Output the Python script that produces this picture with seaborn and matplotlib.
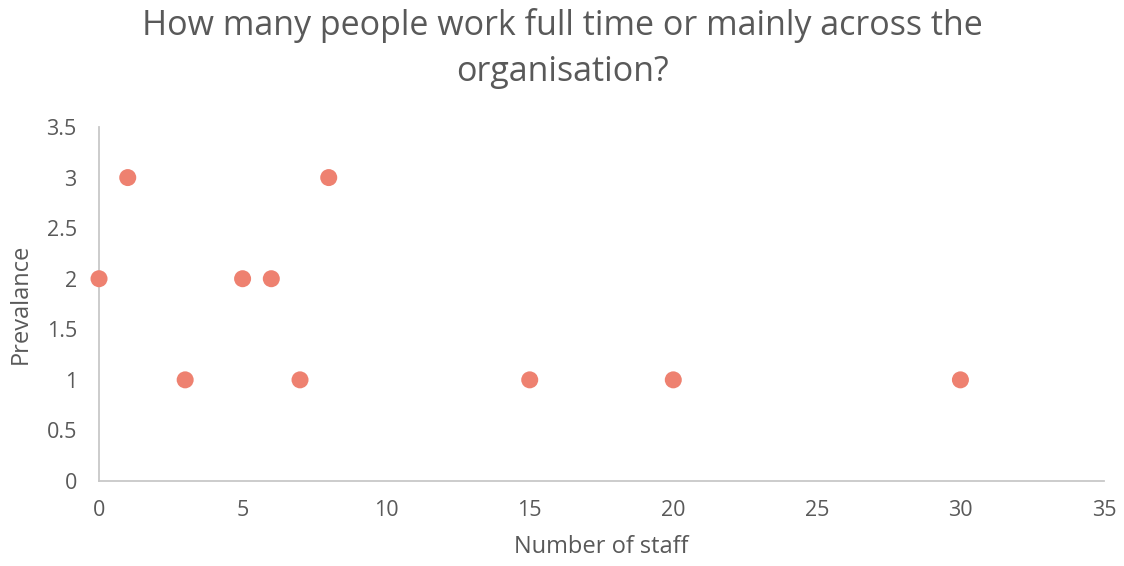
import matplotlib
matplotlib.use("Agg")
import matplotlib.pyplot as plt
import seaborn as sns
import pandas as pd

staff = [0, 1, 3, 5, 6, 7, 8, 15, 20, 30]
prevalence = [2, 3, 1, 2, 2, 1, 3, 1, 1, 1]
x_ticks = [0, 5, 10, 15, 20, 25, 30, 35]
y_ticks = [0, 0.5, 1, 1.5, 2, 2.5, 3, 3.5]
title = "How many people work full time or mainly across the\norganisation?"

sns.set_theme(style="white")
plt.rcParams['font.family'] = ['Open Sans', 'DejaVu Sans']

df = pd.DataFrame({"staff": staff, "prev": prevalence})

fig = plt.figure(figsize=(11.24, 5.66), dpi=100)
ax = fig.add_axes([0.0881, 0.1502, 0.8941, 0.6254])
sns.scatterplot(data=df, x="staff", y="prev", ax=ax, s=150, color="#EE8170",
                edgecolor="none", clip_on=False, zorder=3)

ax.set_xlim(0, 35)
ax.set_ylim(0, 3.5)
ax.set_xticks(x_ticks)
ax.set_xticklabels([str(t) for t in x_ticks])
ax.set_yticks(y_ticks)
ax.set_yticklabels([f"{t:g}" for t in y_ticks])
ax.tick_params(axis='both', labelsize=15.5, colors="#595959", length=0)
ax.tick_params(axis='y', pad=16)
ax.tick_params(axis='x', pad=14)
for s in ["top", "right"]:
    ax.spines[s].set_visible(False)
for s in ["left", "bottom"]:
    ax.spines[s].set_color("#C8C8C8")
    ax.spines[s].set_linewidth(1.3)
ax.set_xlabel("Number of staff", fontsize=17, color="#595959", labelpad=10)
ax.set_ylabel("Prevalance", fontsize=17, color="#595959", labelpad=10)
fig.suptitle(title, fontsize=24.5, color="#595959", y=0.985, linespacing=1.45)

fig.savefig("out.png", dpi=100)
